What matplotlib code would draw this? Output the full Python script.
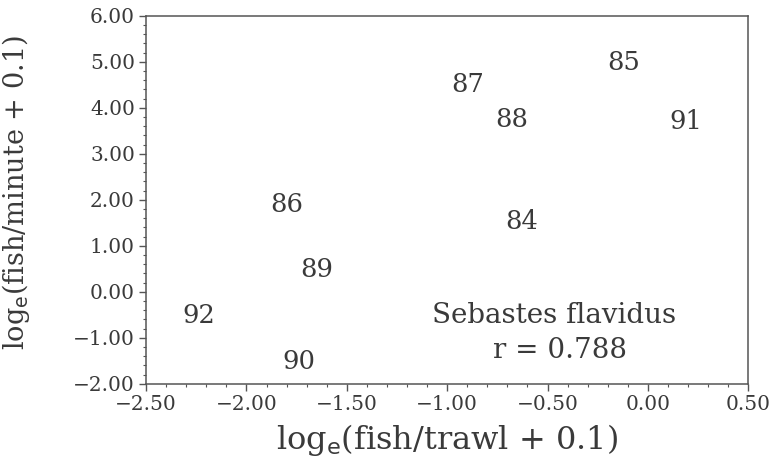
import matplotlib
matplotlib.use("Agg")
import matplotlib.pyplot as plt
from matplotlib.ticker import MultipleLocator, FuncFormatter

# year labels placed at (log trawl catch, log minute catch)
years = ["84", "85", "86", "87", "88", "89", "90", "91", "92"]
log_trawl = [-0.63, -0.12, -1.80, -0.90, -0.68, -1.65, -1.74, 0.19, -2.24]
log_minute = [1.52, 4.98, 1.91, 4.50, 3.74, 0.48, -1.52, 3.70, -0.52]

species = "Sebastes flavidus"
r_value = 0.788

ink = "#3a3a3a"
plt.rcParams["font.family"] = ["DejaVu Serif"]
plt.rcParams["mathtext.fontset"] = "dejavuserif"
plt.rcParams["text.color"] = ink


def two_dec(v, pos):
    return ("%.2f" % v).replace("-", "\u2212")


fig = plt.figure(figsize=(7.77, 4.67), dpi=100)
ax = fig.add_axes([0.188, 0.178, 0.775, 0.788])

for yr, x, y in zip(years, log_trawl, log_minute):
    ax.text(x, y, yr, fontsize=18.5, ha="center", va="center", color=ink)

ax.text(-0.467, -0.52, species, fontsize=20, ha="center", va="center", color=ink)
ax.text(-0.437, -1.27, "r = %.3f" % r_value, fontsize=20, ha="center", va="center", color=ink)

ax.set_xlim(-2.5, 0.5)
ax.set_ylim(-2.0, 6.0)
ax.xaxis.set_major_locator(MultipleLocator(0.5))
ax.xaxis.set_minor_locator(MultipleLocator(0.1))
ax.yaxis.set_major_locator(MultipleLocator(1.0))
ax.yaxis.set_minor_locator(MultipleLocator(0.2))
ax.xaxis.set_major_formatter(FuncFormatter(two_dec))
ax.yaxis.set_major_formatter(FuncFormatter(two_dec))

for s in ax.spines.values():
    s.set_color("#555555")
    s.set_linewidth(1.1)
ax.tick_params(which="major", direction="out", length=5, width=1, color="#555555",
               labelsize=14.5, labelcolor=ink, pad=3)
ax.tick_params(which="minor", direction="out", length=2.5, width=0.8, color="#555555")

ax.set_xlabel("log$_\\mathsf{e}$(fish/trawl + 0.1)", fontsize=23, color=ink, labelpad=6)
ax.set_ylabel("log$_\\mathsf{e}$(fish/minute + 0.1)", fontsize=19.5, color=ink)
ax.yaxis.set_label_coords(-0.19, 0.52)

fig.savefig("out.png", dpi=100)
